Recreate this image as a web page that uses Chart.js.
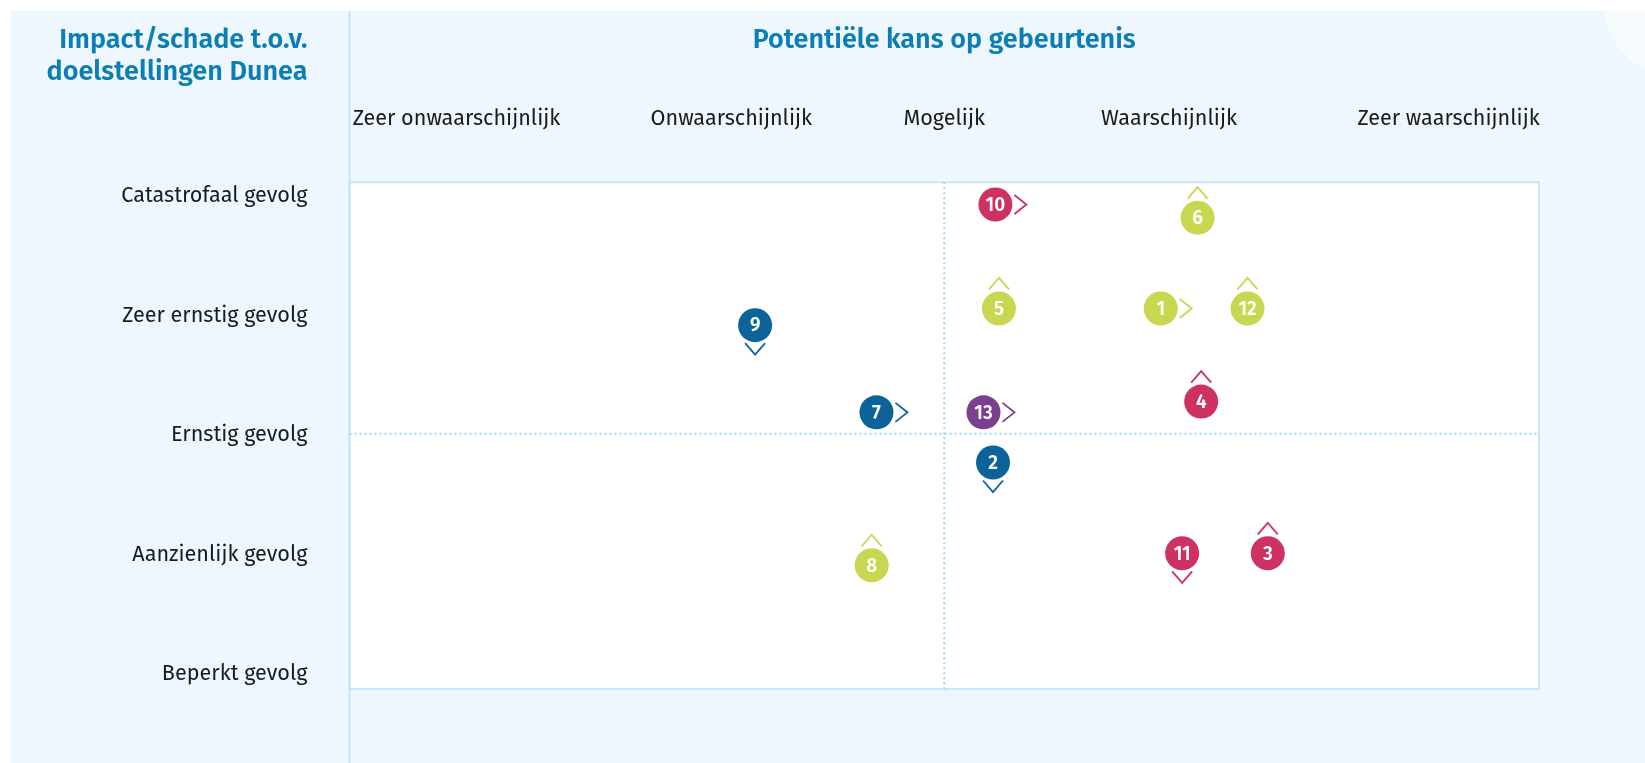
<!DOCTYPE html>
<html lang="nl">
<head>
<meta charset="utf-8">
<title>Risicomatrix Dunea</title>
<script src="https://cdn.jsdelivr.net/npm/chart.js@4/dist/chart.umd.min.js"></script>
<style>
  html, body { margin: 0; padding: 0; background: #ffffff; }
  #wrap { position: relative; width: 1645px; height: 763px; }
  canvas { display: block; }
</style>
</head>
<body>
<div id="wrap"><canvas id="risk-matrix"></canvas></div>
<script>
// Risicomatrix: kans (x) tegen impact (y)
const kansLabels = ["Zeer onwaarschijnlijk", "Onwaarschijnlijk", "Mogelijk", "Waarschijnlijk", "Zeer waarschijnlijk"];
const kansPositions = [9, 32.1, 50, 68.9, 92.4];
const impactLabels = ["Beperkt gevolg", "Aanzienlijk gevolg", "Ernstig gevolg", "Zeer ernstig gevolg", "Catastrofaal gevolg"];
const impactLevels = [1, 2, 3, 4, 5];

const riskIds    = [1, 2, 3, 4, 5, 6, 7, 8, 9, 10, 11, 12, 13];
const riskKans   = [68.2, 54.1, 77.2, 71.6, 54.6, 71.3, 44.3, 43.9, 34.1, 54.3, 70.0, 75.5, 53.3];
const riskImpact = [4.05, 2.76, 2.0, 3.27, 4.05, 4.81, 3.18, 1.9, 3.91, 4.92, 2.0, 4.05, 3.18];
const riskGroup  = ["groen", "blauw", "rood", "rood", "groen", "groen", "blauw", "groen", "blauw", "rood", "rood", "groen", "paars"];
const riskTrend  = ["right", "down", "up", "up", "up", "up", "right", "up", "down", "right", "down", "up", "right"];

const groupColors = { rood: "#cd3263", groen: "#c8d650", blauw: "#0c6399", paars: "#7b3f8f" };

const FONT = "'Fira Sans', 'Noto Sans', sans-serif";
const BLUE = "#0b7fb5";
const LINE = "#c2e4f6";
const DOT = "#9fd6f2";

const backgroundPlugin = {
  id: "matrixBackground",
  beforeDraw(chart) {
    const { ctx, chartArea: a, width, height } = chart;
    ctx.save();
    // paneel
    ctx.fillStyle = "#eef7fd";
    ctx.fillRect(11, 11, width - 11, height - 11);
    // decoratieve cirkel rechtsboven
    ctx.beginPath();
    ctx.rect(11, 11, width - 11, height - 11);
    ctx.clip();
    ctx.beginPath();
    ctx.arc(width + 37, 0, 79, 0, Math.PI * 2);
    ctx.fillStyle = "#f6fbfe";
    ctx.fill();
    ctx.restore();

    ctx.save();
    ctx.fillStyle = "#ffffff";
    ctx.fillRect(a.left, a.top, a.right - a.left, a.bottom - a.top);
    ctx.strokeStyle = LINE;
    ctx.lineWidth = 1.8;
    ctx.beginPath();
    ctx.moveTo(a.left, 11);
    ctx.lineTo(a.left, height);
    ctx.stroke();
    ctx.strokeRect(a.left, a.top, a.right - a.left, a.bottom - a.top);

    // gestippelde kwadrantlijnen
    const xs = chart.scales.x, ys = chart.scales.y;
    const mx = xs.getPixelForValue(kansPositions[2]);
    const my = ys.getPixelForValue(impactLevels[2]);
    ctx.strokeStyle = DOT;
    ctx.lineWidth = 2;
    ctx.setLineDash([2, 3]);
    ctx.beginPath();
    ctx.moveTo(mx, a.top);
    ctx.lineTo(mx, a.bottom + 3);
    ctx.moveTo(a.left, my);
    ctx.lineTo(a.right, my);
    ctx.stroke();
    ctx.restore();

    // titel links
    ctx.save();
    ctx.fillStyle = BLUE;
    ctx.font = "600 27px " + FONT;
    ctx.textAlign = "right";
    ctx.textBaseline = "middle";
    ctx.fillText("Impact/schade t.o.v.", a.left - 42, 40);
    ctx.fillText("doelstellingen Dunea", a.left - 42, 72);
    ctx.restore();
  }
};

const markerPlugin = {
  id: "riskMarkers",
  afterDatasetsDraw(chart) {
    const { ctx } = chart;
    const meta = chart.getDatasetMeta(0);
    ctx.save();
    meta.data.forEach((pt, i) => {
      const { x, y } = pt.getProps(["x", "y"], true);
      const color = groupColors[riskGroup[i]];
      ctx.fillStyle = "#ffffff";
      ctx.font = "600 19px " + FONT;
      ctx.textAlign = "center";
      ctx.textBaseline = "middle";
      ctx.fillText(String(riskIds[i]), x, y + 1);

      ctx.strokeStyle = color;
      ctx.lineWidth = 1.8;
      ctx.beginPath();
      if (riskTrend[i] === "up") {
        ctx.moveTo(x - 10, y - 19);
        ctx.lineTo(x, y - 30.5);
        ctx.lineTo(x + 10, y - 19);
      } else if (riskTrend[i] === "down") {
        ctx.moveTo(x - 10, y + 18);
        ctx.lineTo(x, y + 29.5);
        ctx.lineTo(x + 10, y + 18);
      } else {
        ctx.moveTo(x + 19, y - 9.5);
        ctx.lineTo(x + 31, y);
        ctx.lineTo(x + 19, y + 9.5);
      }
      ctx.stroke();
    });
    ctx.restore();
  }
};

const canvas = document.getElementById("risk-matrix");
new Chart(canvas.getContext("2d"), {
  type: "scatter",
  data: {
    datasets: [
      {
        label: "Risico's",
        data: riskIds.map((id, i) => ({ x: riskKans[i], y: riskImpact[i] })),
        backgroundColor: riskGroup.map((g) => groupColors[g]),
        borderWidth: 0,
        pointRadius: 17,
        pointHoverRadius: 17,
      },
    ],
  },
  options: {
    responsive: true,
    maintainAspectRatio: false,
    animation: false,
    layout: { padding: { top: 11, right: 106, bottom: 74, left: 0 } },
    plugins: {
      legend: { display: false },
      tooltip: { enabled: false },
      title: {
        display: true,
        text: "Potentiële kans op gebeurtenis",
        color: BLUE,
        fullSize: false,
        font: { family: FONT, size: 27, weight: "600" },
        padding: { top: 13, bottom: 0 },
      },
    },
    scales: {
      x: {
        type: "linear",
        position: "top",
        min: 0,
        max: 100,
        afterBuildTicks: (s) => { s.ticks = kansPositions.map((v) => ({ value: v })); },
        afterFit: (s) => { s.height = 125.9; },
        grid: { display: false, drawTicks: false },
        border: { display: false },
        ticks: {
          autoSkip: false,
          maxRotation: 0,
          padding: 50,
          color: "#1b1b1b",
          font: { family: FONT, size: 21.6 },
          callback: (v, i) => kansLabels[i],
        },
      },
      y: {
        type: "linear",
        min: 0.864,
        max: 5.106,
        afterBuildTicks: (s) => { s.ticks = impactLevels.map((v) => ({ value: v })); },
        afterFit: (s) => { s.width = 349.5; },
        grid: { display: false, drawTicks: false },
        border: { display: false },
        ticks: {
          autoSkip: false,
          padding: 42,
          labelOffset: 1.5,
          color: "#1b1b1b",
          font: { family: FONT, size: 21.6 },
          callback: (v) => impactLabels[impactLevels.indexOf(v)],
        },
      },
    },
  },
  plugins: [backgroundPlugin, markerPlugin],
});
</script>
</body>
</html>
